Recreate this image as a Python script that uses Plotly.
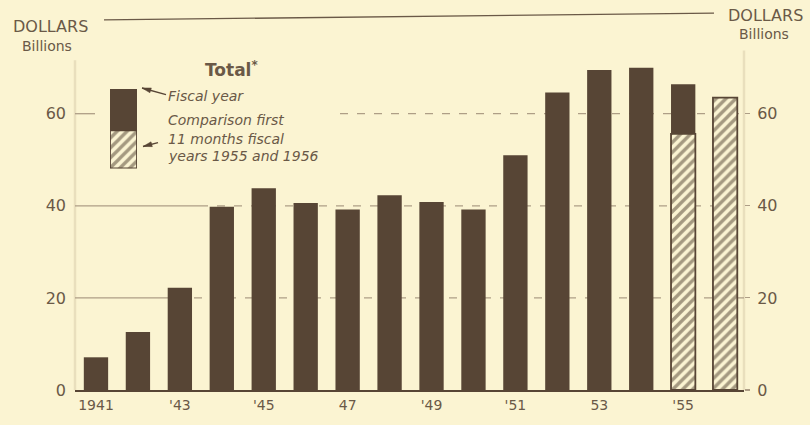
import plotly.graph_objects as go

# ---------------- data ----------------
fiscal_years = [1941, 1942, 1943, 1944, 1945, 1946, 1947, 1948, 1949, 1950,
                1951, 1952, 1953, 1954, 1955]
fiscal_totals = [7.1, 12.6, 22.2, 39.8, 43.8, 40.6, 39.2, 42.3, 40.8, 39.2,
                 51.0, 64.6, 69.5, 70.0, 66.4]

partial_years = [1955, 1956]
partial_totals = [55.6, 63.5]

x_tick_vals = [1941, 1943, 1945, 1947, 1949, 1951, 1953, 1955]
x_tick_text = ["1941", "'43", "'45", "47", "'49", "'51", "53", "'55"]
y_tick_vals = [0, 20, 40, 60]
y_tick_text = ["0", "20", "40", "60"]

# legend key proportions (hatched part, dark part)
key_hatch = [0.48]
key_dark = [0.52]

# ---------------- style ----------------
BG = "#fbf4d2"
BAR = "#574535"
TXT = "#6a5947"
GRID = "#ae9e86"
FAINT = "#e9dfbd"
FONT = "DejaVu Sans"

W, H = 810, 425
L, R, T, B = 75, 66, 17, 19
PW, PH = W - L - R, H - T - B


def px(x):
    return (x - L) / PW


def py(y):
    return (H - B - y) / PH


HATCH = dict(shape="/", fgcolor="#4e3d2e", bgcolor=BG, size=7, solidity=0.48)

fig = go.Figure()

fig.add_trace(go.Bar(
    x=fiscal_years, y=fiscal_totals, width=0.58,
    marker=dict(color=BAR, line=dict(width=0)),
    xaxis="x", yaxis="y", hoverinfo="x+y", showlegend=False,
))
fig.add_trace(go.Bar(
    x=partial_years, y=partial_totals, width=0.58,
    marker=dict(color=BG, line=dict(color=BAR, width=1.8), pattern=HATCH),
    xaxis="x", yaxis="y2", hoverinfo="x+y", showlegend=False,
))

# legend key (stacked swatch)
fig.add_trace(go.Bar(
    x=[0], y=key_hatch, base=[0], width=1,
    marker=dict(color=BG, line=dict(color=BAR, width=1.8), pattern=HATCH),
    xaxis="x3", yaxis="y3", hoverinfo="skip", showlegend=False,
))
fig.add_trace(go.Bar(
    x=[0], y=key_dark, base=key_hatch, width=1,
    marker=dict(color=BAR, line=dict(width=0)),
    xaxis="x3", yaxis="y3", hoverinfo="skip", showlegend=False,
))

YR = [0, 81]

fig.update_layout(
    width=W, height=H,
    margin=dict(l=L, r=R, t=T, b=B, pad=0),
    paper_bgcolor=BG, plot_bgcolor="rgba(0,0,0,0)",
    barmode="overlay",
    font=dict(family=FONT, color=TXT),
    xaxis=dict(
        range=[1940.5, 1956.45], tickvals=x_tick_vals, ticktext=x_tick_text,
        showgrid=False, zeroline=False, showline=True, linecolor=BAR,
        linewidth=2.2, ticks="", tickfont=dict(size=14, color=TXT),
        ticklabelstandoff=1, fixedrange=True,
    ),
    yaxis=dict(
        range=YR, tickvals=y_tick_vals, ticktext=y_tick_text,
        showgrid=False, zeroline=False, showline=False, ticks="",
        tickfont=dict(size=16, color=TXT), ticklabelstandoff=8,
        fixedrange=True,
    ),
    yaxis2=dict(
        range=YR, overlaying="y", side="right", tickvals=y_tick_vals,
        ticktext=y_tick_text, showgrid=False, zeroline=False,
        showline=False, ticks="outside", ticklen=5, tickcolor=GRID,
        tickwidth=1.2, tickfont=dict(size=16, color=TXT),
        ticklabelstandoff=4, fixedrange=True,
    ),
    xaxis3=dict(domain=[px(110), px(137)], anchor="y3", range=[-0.5, 0.5],
                visible=False, fixedrange=True),
    yaxis3=dict(domain=[py(175), py(92)], anchor="x3", range=[0, 1],
                visible=False, fixedrange=True),
)

shapes = []
# faint axis lines
shapes.append(dict(type="line", xref="paper", yref="paper", x0=0, x1=0,
                   y0=0, y1=py(62), line=dict(color=FAINT, width=2.5),
                   layer="below"))
shapes.append(dict(type="line", xref="paper", yref="paper", x0=1, x1=1,
                   y0=0, y1=py(52), line=dict(color=FAINT, width=2.5),
                   layer="below"))
# gridlines: a solid stub from the left axis, then dashes
grid_starts = {20: px(160), 40: px(200), 60: px(340)}
solid_ends = {20: px(160), 40: px(200), 60: px(95)}
for v in y_tick_vals[1:]:
    shapes.append(dict(type="line", xref="paper", yref="y", x0=0,
                       x1=solid_ends[v], y0=v, y1=v,
                       line=dict(color=GRID, width=1.3), layer="below"))
    shapes.append(dict(type="line", xref="paper", yref="y",
                       x0=grid_starts[v], x1=1, y0=v, y1=v,
                       line=dict(color=GRID, width=1.2, dash="8px,9px"),
                       layer="below"))
# top rule between the unit labels
shapes.append(dict(type="line", xref="paper", yref="paper", x0=px(104),
                   x1=px(714), y0=py(20), y1=py(13),
                   line=dict(color=TXT, width=1.3)))


# pointer arrows of the key (tip at the swatch)
def pointer(tx, ty, ex, ey):
    shapes.append(dict(type="line", xref="paper", yref="paper",
                       x0=px(tx), y0=py(ty), x1=px(ex), y1=py(ey),
                       line=dict(color=BAR, width=1.4)))
    dx, dy = ex - tx, ey - ty
    n = (dx * dx + dy * dy) ** 0.5
    ux, uy = dx / n, dy / n
    bx, by = tx + ux * 9, ty + uy * 9
    p1 = (bx - uy * 2.6, by + ux * 2.6)
    p2 = (bx + uy * 2.6, by - ux * 2.6)
    path = "M {:.5f} {:.5f} L {:.5f} {:.5f} L {:.5f} {:.5f} Z".format(
        px(tx), py(ty), px(p1[0]), py(p1[1]), px(p2[0]), py(p2[1]))
    shapes.append(dict(type="path", xref="paper", yref="paper", path=path,
                       fillcolor=BAR, line=dict(color=BAR, width=0.5)))


pointer(142, 91, 166, 98)
pointer(143, 152, 158, 148)
fig.update_layout(shapes=shapes)

ann = []


def text(x, y, s, size, anchor="center", italic=False, bold=False):
    ann.append(dict(
        x=px(x), y=py(y), xref="paper", yref="paper", text=s,
        showarrow=False, xanchor=anchor, yanchor="middle",
        font=dict(size=size, color=TXT, family=FONT,
                  style="italic" if italic else "normal",
                  weight=700 if bold else 400),
    ))


text(50, 27, "DOLLARS", 16)
text(47, 47, "Billions", 14)
text(765, 15, "DOLLARS", 16)
text(764, 35, "Billions", 14)
text(231, 71, "Total<sup>*</sup>", 17, bold=True)
text(166, 99, "Fiscal year", 14, anchor="left", italic=True)
text(166, 124, "Comparison first", 14, anchor="left", italic=True)
text(166, 144, "11 months fiscal", 14, anchor="left", italic=True)
text(166, 162, "years 1955 and 1956", 14, anchor="left", italic=True)

fig.update_layout(annotations=ann)

fig.write_html(
    "out.html",
    config={"displayModeBar": False, "staticPlot": True},
    post_script="document.body.style.margin='0';"
                "document.body.style.overflow='hidden';",
)
